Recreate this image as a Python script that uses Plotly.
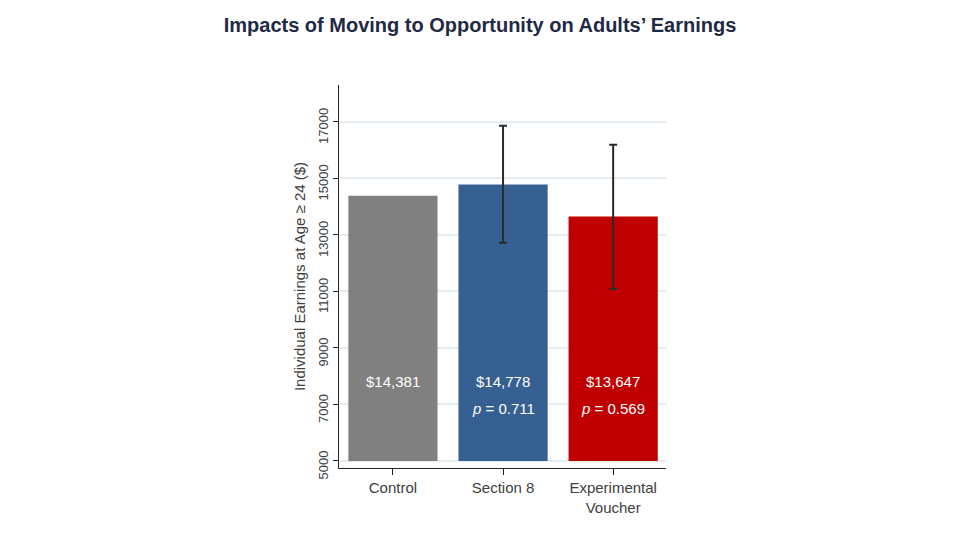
import plotly.graph_objects as go

categories = ["Control", "Section 8", "Experimental<br>Voucher"]
earnings = [14381, 14778, 13647]
bar_colors = ["#808080", "#366092", "#c00000"]
value_labels = ["$14,381", "$14,778", "$13,647"]
p_labels = ["", "<i>p</i> = 0.711", "<i>p</i> = 0.569"]
ci_plus = [None, 2080, 2540]
ci_minus = [None, 2060, 2560]
y_ticks = [5000, 7000, 9000, 11000, 13000, 15000, 17000]
y_tick_labels = ["5000", "7000", "9000", "11000", "13000", "15000", "17000"]
base = 5000

FONT = "Liberation Sans, Arial"

fig = go.Figure()
fig.add_trace(go.Bar(
    x=categories, y=[v - base for v in earnings], base=base,
    marker=dict(color=bar_colors, line=dict(width=0)),
    width=0.81, hoverinfo="skip", showlegend=False,
))
fig.add_trace(go.Scatter(
    x=categories[1:], y=earnings[1:], mode="markers",
    marker=dict(size=1, opacity=0),
    error_y=dict(type="data", symmetric=False, array=ci_plus[1:], arrayminus=ci_minus[1:],
                 color="#2b2b2b", thickness=2, width=4),
    showlegend=False, hoverinfo="skip",
))

annotations = []
for c, v, p in zip(categories, value_labels, p_labels):
    annotations.append(dict(x=c, y=7800, text=v, showarrow=False,
                            font=dict(color="white", size=15, family=FONT)))
    if p:
        annotations.append(dict(x=c, y=6850, text=p, showarrow=False,
                                font=dict(color="white", size=15, family=FONT)))

fig.update_layout(
    width=960, height=540,
    margin=dict(l=331, r=302, t=77, b=80),
    paper_bgcolor="white", plot_bgcolor="white",
    title=dict(text="<b>Impacts of Moving to Opportunity on Adults’ Earnings</b>",
               x=472 / 960, xanchor="center", y=1 - 17 / 540, yanchor="middle",
               font=dict(size=20, color="#1f2a44", family=FONT)),
    font=dict(family=FONT, color="#404040"),
    annotations=annotations,
    xaxis=dict(range=[-0.49, 2.48], showline=True, linecolor="#222222", linewidth=1.2,
               ticks="outside", ticklen=6, tickcolor="#222222", showgrid=False,
               automargin=False,
               tickfont=dict(size=15, color="#404040")),
    yaxis=dict(range=[4750, 18300], tickvals=y_ticks, ticktext=y_tick_labels,
               showline=True, linecolor="#222222", automargin=False,
               linewidth=1.2, ticks="outside", ticklen=5, tickcolor="#222222",
               tickangle=-90, zeroline=False, ticklabelshift=6,
               showgrid=True, gridcolor="#e6edf2", gridwidth=1.5,
               tickfont=dict(size=13, color="#404040"),
               title=dict(text="Individual Earnings at Age ≥ 24 ($)", standoff=6,
                          font=dict(size=15, color="#404040"))),
)

fig.write_html("out.html")
